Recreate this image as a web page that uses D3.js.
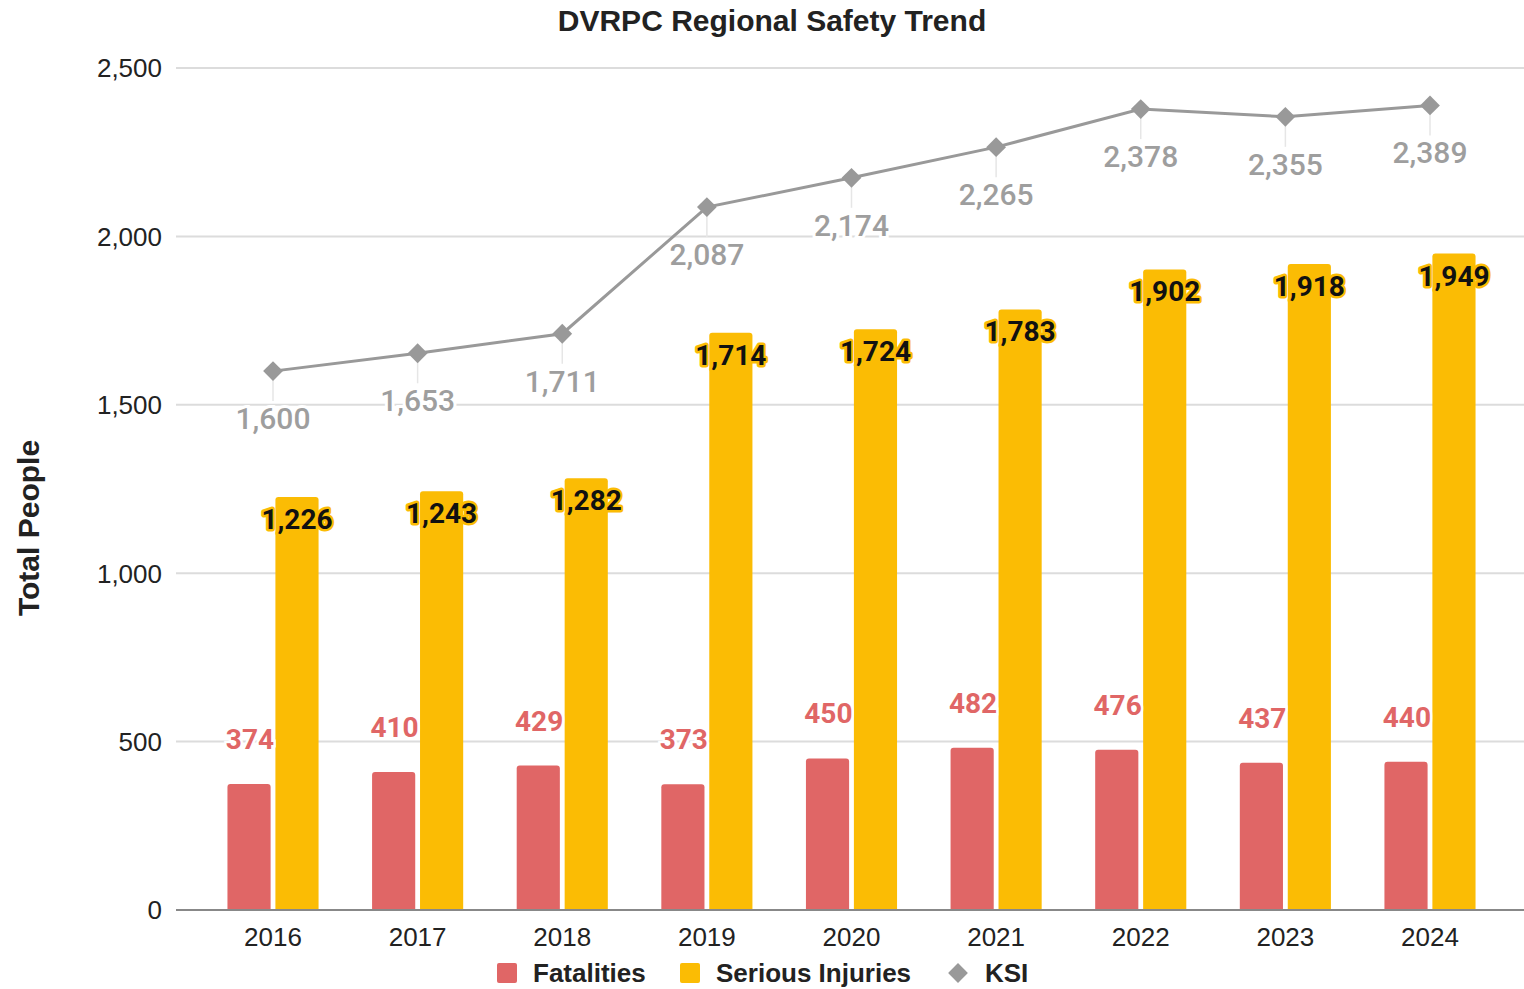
<!DOCTYPE html>
<html>
<head>
<meta charset="utf-8">
<script src="https://cdn.jsdelivr.net/npm/d3@7"></script>
<style>
  html, body { margin: 0; padding: 0; background: #fff; }
  svg { display: block; }
</style>
</head>
<body>
<svg id="chart" width="1524" height="989"></svg>
<script>
// data
const years = ["2016", "2017", "2018", "2019", "2020", "2021", "2022", "2023", "2024"];
const fatalities = [374, 410, 429, 373, 450, 482, 476, 437, 440];
const seriousInjuries = [1226, 1243, 1282, 1714, 1724, 1783, 1902, 1918, 1949];
const ksi = [1600, 1653, 1711, 2087, 2174, 2265, 2378, 2355, 2389];
const yTicks = [0, 500, 1000, 1500, 2000, 2500];

const RED = "#e06666", YELLOW = "#fbbc04", GRAY = "#999999";
const fmt = d3.format(",");

const svg = d3.select("#chart");
const gridLeft = 176, gridRight = 1524;

const x = d3.scaleBand().domain(years).range([200.7, 1502.3])
  .paddingInner(0.37).paddingOuter(0.185);
const x1 = d3.scaleBand().domain(["f", "s"]).range([0, x.bandwidth()]).paddingInner(0.1);
const y = d3.scaleLinear().domain([0, 2500]).range([910, 68]);

// title
svg.append("text")
  .attr("x", 772).attr("y", 31)
  .attr("text-anchor", "middle")
  .style("font", "bold 30px 'Liberation Sans', Arial, sans-serif")
  .attr("fill", "#222")
  .text("DVRPC Regional Safety Trend");

// y axis title
svg.append("text")
  .attr("transform", "translate(39,528) rotate(-90)")
  .attr("text-anchor", "middle")
  .style("font", "bold 30px 'Liberation Sans', Arial, sans-serif")
  .attr("fill", "#222")
  .text("Total People");

// gridlines + tick labels
svg.append("g").selectAll("line")
  .data(yTicks.filter(d => d > 0))
  .join("line")
  .attr("x1", gridLeft).attr("x2", gridRight)
  .attr("y1", d => y(d)).attr("y2", d => y(d))
  .attr("stroke", "#dcdcdc").attr("stroke-width", 2);

svg.append("g").selectAll("text")
  .data(yTicks)
  .join("text")
  .attr("x", 162).attr("y", d => y(d))
  .attr("dy", "0.36em")
  .attr("text-anchor", "end")
  .style("font", "26px 'Liberation Sans', Arial, sans-serif")
  .attr("fill", "#222")
  .text(d => fmt(d));

// bars with rounded tops
function barPath(x0, w, yTop, yBot, r) {
  return `M${x0},${yBot}V${yTop + r}Q${x0},${yTop} ${x0 + r},${yTop}H${x0 + w - r}Q${x0 + w},${yTop} ${x0 + w},${yTop + r}V${yBot}Z`;
}

const groups = svg.append("g").selectAll("g")
  .data(years)
  .join("g")
  .attr("transform", d => `translate(${x(d)},0)`);

groups.append("path")
  .attr("fill", RED)
  .attr("d", (d, i) => barPath(x1("f"), x1.bandwidth(), y(fatalities[i]), y(0), 3));

groups.append("path")
  .attr("fill", YELLOW)
  .attr("d", (d, i) => barPath(x1("s"), x1.bandwidth(), y(seriousInjuries[i]), y(0), 3));

// baseline
svg.append("line")
  .attr("x1", gridLeft).attr("x2", gridRight)
  .attr("y1", y(0)).attr("y2", y(0))
  .attr("stroke", "#888").attr("stroke-width", 2);

// x labels
svg.append("g").selectAll("text")
  .data(years)
  .join("text")
  .attr("x", d => x(d) + x.bandwidth() / 2)
  .attr("y", 946)
  .attr("text-anchor", "middle")
  .style("font", "26px 'Liberation Sans', Arial, sans-serif")
  .attr("fill", "#222")
  .text(d => d);

// fatality labels
groups.append("text")
  .attr("x", x.bandwidth() / 2 + 1)
  .attr("y", (d, i) => y(fatalities[i]) - 35)
  .attr("text-anchor", "end")
  .style("font", "bold 28px Roboto, sans-serif")
  .attr("fill", RED)
  .attr("stroke", "#fff").attr("stroke-width", 5)
  .attr("paint-order", "stroke")
  .text((d, i) => fmt(fatalities[i]));

// serious injury labels
groups.append("text")
  .attr("x", x1("s") + x1.bandwidth() / 2)
  .attr("y", (d, i) => y(seriousInjuries[i]) + 32)
  .attr("text-anchor", "middle")
  .style("font", "bold 28px Roboto, sans-serif")
  .attr("fill", "#111")
  .attr("stroke", YELLOW).attr("stroke-width", 5)
  .attr("stroke-linejoin", "round")
  .attr("paint-order", "stroke")
  .text((d, i) => fmt(seriousInjuries[i]));

// KSI line
const cx = d => x(d) + x.bandwidth() / 2;

svg.append("g").selectAll("line")
  .data(years)
  .join("line")
  .attr("x1", cx).attr("x2", cx)
  .attr("y1", (d, i) => y(ksi[i])).attr("y2", (d, i) => y(ksi[i]) + 30)
  .attr("stroke", "#e6e6e6").attr("stroke-width", 1.5);

svg.append("path")
  .datum(years)
  .attr("fill", "none")
  .attr("stroke", GRAY).attr("stroke-width", 3)
  .attr("d", d3.line().x(cx).y((d, i) => y(ksi[i])));

svg.append("g").selectAll("rect")
  .data(years)
  .join("rect")
  .attr("x", -7).attr("y", -7).attr("width", 14).attr("height", 14)
  .attr("fill", GRAY)
  .attr("transform", (d, i) => `translate(${cx(d)},${y(ksi[i])}) rotate(45)`);

svg.append("g").selectAll("text")
  .data(years)
  .join("text")
  .attr("x", cx)
  .attr("y", (d, i) => y(ksi[i]) + 58)
  .attr("text-anchor", "middle")
  .style("font", "500 30px Roboto, sans-serif")
  .attr("fill", "#9e9e9e")
  .attr("stroke", "#fff").attr("stroke-width", 6)
  .attr("paint-order", "stroke")
  .text((d, i) => fmt(ksi[i]));

// legend
const legend = svg.append("g");
const legendItems = [
  { name: "Fatalities", color: RED, type: "sq", x: 497 },
  { name: "Serious Injuries", color: YELLOW, type: "sq", x: 680 },
  { name: "KSI", color: GRAY, type: "dia", x: 948 }
];
legendItems.forEach(it => {
  if (it.type === "sq") {
    legend.append("rect")
      .attr("x", it.x).attr("y", 963).attr("width", 20).attr("height", 20)
      .attr("rx", 2).attr("fill", it.color);
  } else {
    legend.append("rect")
      .attr("x", -7).attr("y", -7).attr("width", 14).attr("height", 14)
      .attr("fill", it.color)
      .attr("transform", `translate(${it.x + 10},973) rotate(45)`);
  }
  legend.append("text")
    .attr("x", it.x + (it.type === "sq" ? 36 : 37)).attr("y", 982)
    .style("font", "bold 26px 'Liberation Sans', Arial, sans-serif")
    .attr("fill", "#222")
    .text(it.name);
});
</script>
</body>
</html>
